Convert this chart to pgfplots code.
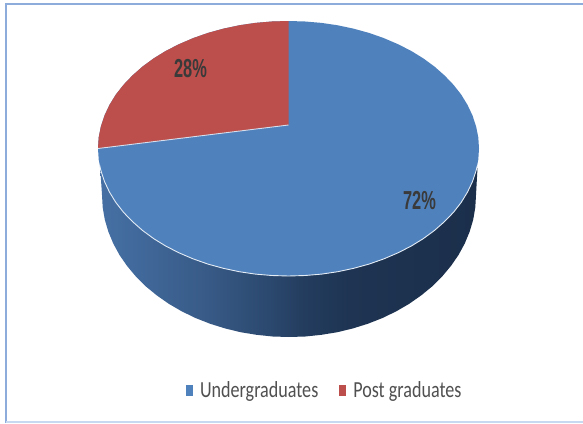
\documentclass[border=0pt]{standalone}
\usepackage{fontspec}
\usepackage{pgfplots}
\usepackage{pgfplotstable}
\pgfplotsset{compat=1.18}
\setmainfont{Liberation Sans}
\newfontfamily\pctfont[FakeStretch=0.63]{Liberation Sans}
\newfontfamily\legfont[FakeStretch=0.787]{Carlito}
\definecolor{pieblue}{HTML}{4F81BD}
\definecolor{piered}{HTML}{BC4F4B}
\definecolor{frameblue}{HTML}{8EACDB}
\definecolor{framelight}{HTML}{C6D9F0}
\definecolor{labelgrey}{HTML}{3A3A3A}
\definecolor{legtext}{HTML}{505050}
\definecolor{w0}{HTML}{4670A4}
\definecolor{w1}{HTML}{3F6697}
\definecolor{w2}{HTML}{395C89}
\definecolor{w3}{HTML}{2D4B72}
\definecolor{w4}{HTML}{243E60}
\definecolor{w5}{HTML}{1E3452}
\definecolor{w6}{HTML}{1B2F4B}
\pgfdeclarehorizontalshading{wall}{100bp}{
  color(0bp)=(w0); color(25bp)=(w0); color(31.6bp)=(w1); color(38.2bp)=(w2);
  color(46.2bp)=(w3); color(51.5bp)=(w4); color(58bp)=(w5); color(75bp)=(w6); color(100bp)=(w6)
}

% outline of the top face, full ellipse
\pgfplotstableread{
x y
479.0 148.5
478.3 159.6
476.1 170.6
472.5 181.5
467.5 192.1
461.2 202.4
453.5 212.3
444.5 221.6
434.4 230.5
423.2 238.7
411.0 246.2
397.8 252.9
383.8 258.9
369.0 264.1
353.7 268.3
337.8 271.7
321.6 274.1
305.1 275.5
288.5 276.0
271.9 275.5
255.4 274.1
239.2 271.7
223.3 268.3
208.0 264.1
193.2 258.9
179.2 252.9
166.0 246.2
153.8 238.7
142.6 230.5
132.5 221.6
123.5 212.3
115.8 202.4
109.5 192.1
104.5 181.5
100.9 170.6
98.7 159.6
98.0 148.5
98.7 137.4
100.9 126.4
104.5 115.5
109.5 104.9
115.8 94.6
123.5 84.8
132.5 75.4
142.6 66.5
153.8 58.3
166.0 50.8
179.2 44.1
193.2 38.1
208.0 32.9
223.3 28.7
239.2 25.3
255.4 22.9
271.9 21.5
288.5 21.0
305.1 21.5
321.6 22.9
337.8 25.3
353.7 28.7
369.0 32.9
383.8 38.1
397.8 44.1
411.0 50.8
423.2 58.3
434.4 66.5
444.5 75.4
453.5 84.8
461.2 94.6
467.5 104.9
472.5 115.5
476.1 126.4
478.3 137.4
479.0 148.5
}\topface

% 28% slice
\pgfplotstableread{
x y
288.5 125.0
98.0 148.5
98.7 137.4
100.9 126.4
104.5 115.5
109.5 104.9
115.8 94.6
123.5 84.8
132.5 75.4
142.6 66.5
153.8 58.3
166.0 50.8
179.2 44.1
193.2 38.1
208.0 32.9
223.3 28.7
239.2 25.3
255.4 22.9
271.9 21.5
288.5 21.0
288.5 125.0
}\redslice

% side wall
\pgfplotstableread{
x y
100.0 165.0
102.0 195.0
102.7 207.4
104.8 219.7
108.4 231.8
113.3 243.6
119.5 255.0
127.1 266.0
135.8 276.4
145.7 286.3
156.8 295.4
168.8 303.8
181.7 311.3
195.5 318.0
210.0 323.7
225.0 328.4
240.6 332.2
256.5 334.8
272.7 336.5
289.0 337.0
305.3 336.5
321.5 334.8
337.4 332.2
353.0 328.4
368.0 323.7
382.5 318.0
396.3 311.3
409.2 303.8
421.2 295.4
432.3 286.3
442.2 276.4
450.9 266.0
458.5 255.0
464.7 243.6
469.6 231.8
473.2 219.7
475.3 207.4
476.0 195.0
477.5 168.0
100.0 165.0
}\wall

% white rim along the front of the top face
\pgfplotstableread{
x y
477.2 166.0
476.1 170.6
472.5 181.5
467.5 192.1
461.2 202.4
453.5 212.3
444.5 221.6
434.4 230.5
423.2 238.7
411.0 246.2
397.8 252.9
383.8 258.9
369.0 264.1
353.7 268.3
337.8 271.7
321.6 274.1
305.1 275.5
288.5 276.0
271.9 275.5
255.4 274.1
239.2 271.7
223.3 268.3
208.0 264.1
193.2 258.9
179.2 252.9
166.0 246.2
153.8 238.7
142.6 230.5
132.5 221.6
123.5 212.3
115.8 202.4
109.5 192.1
104.5 181.5
100.9 170.6
99.6 165.0
}\rim

\begin{document}
\begin{tikzpicture}
% hidden axis has no box of its own, so fix the page size here
\useasboundingbox (0,0) rectangle (583pt,423pt);
\begin{axis}[
    at={(0,0)},
    anchor=south west,
    width=583pt,
    height=423pt,
    scale only axis,
    hide axis,
    xmin=0, xmax=583,
    ymin=0, ymax=423,
    y dir=reverse,
    legend columns=2,
    legend style={
        at={(axis cs:186,390.5)},
        anchor=west,
        draw=none,
        fill=none,
        inner sep=0pt,
        outer sep=0pt,
        font={\legfont\fontsize{23}{23}\selectfont},
        text=legtext,
        /tikz/column 1/.style={column sep=5pt},
        /tikz/column 2/.style={column sep=19pt},
        /tikz/column 3/.style={column sep=5pt},
    },
    legend image code/.code={
        \fill[#1] (0pt,-5.5pt) rectangle (7pt,5.5pt);
    },
]

% frame of the slide
\addplot[frameblue, line width=2pt, forget plot] coordinates {(6,423) (6,3.5) (583,3.5)};
\addplot[framelight, line width=2pt, forget plot] coordinates {(6,421.5) (583,421.5)};

% side wall
\addplot[draw=none, shading=wall, forget plot] table {\wall};

% top face
\addplot[draw=none, fill=pieblue] table {\topface};
\addlegendentry{Undergraduates}
\addplot[draw=none, fill=piered] table {\redslice};
\addlegendentry{Post graduates}

% pale edges
\addplot[white!85!pieblue, line width=0.9pt, forget plot] table {\rim};
\addplot[white!75!pieblue, line width=0.9pt, forget plot] coordinates {(98,148.5) (288.5,125)};

\node[font={\pctfont\bfseries\fontsize{26}{26}\selectfont}, text=labelgrey] at (axis cs:190.5,69) {28\%};
\node[font={\pctfont\bfseries\fontsize{26}{26}\selectfont}, text=labelgrey] at (axis cs:419.5,201) {72\%};
\end{axis}
\end{tikzpicture}
\end{document}
